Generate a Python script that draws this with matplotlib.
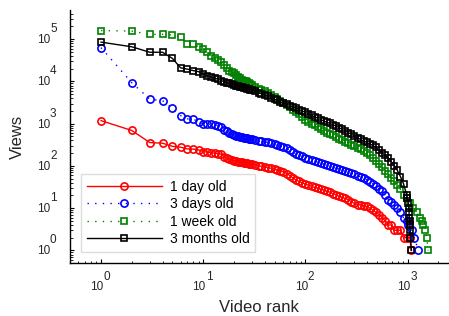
import matplotlib
matplotlib.use("Agg")
import matplotlib.pyplot as plt
from matplotlib.ticker import LogLocator, NullFormatter

plt.rcParams['font.family'] = ['Liberation Sans', 'DejaVu Sans']

rank_grid = [1, 2, 3, 4, 5, 6, 7, 8, 9, 10, 11, 12, 13, 14, 15, 16, 17, 18, 19, 20,
             21, 22, 23, 24, 25, 26, 27, 28, 29, 30, 32, 35, 37, 40, 43, 46, 50, 53,
             57, 61, 66, 71, 76, 81, 87, 93, 100, 107, 115, 123, 132, 141, 151, 162,
             174, 186, 200, 214, 229, 245, 263, 282, 302, 324, 347, 372, 398, 427,
             457, 490, 525, 562, 603, 646, 692, 741, 794, 851, 912, 977]

day1_views = [1180, 690, 357, 345, 290, 277, 253, 250, 240, 219, 212, 205, 200, 196,
              190, 167, 155, 145, 139, 134, 130, 127, 125, 122, 120, 118, 116, 113,
              111, 109, 106, 101, 98, 95, 91, 88, 84, 81, 77, 73, 66, 58, 51, 46, 43,
              40, 37, 35, 33, 31, 30, 28, 27, 25, 24, 22, 21, 19, 18, 17, 16, 14, 13,
              12, 12, 11, 11, 10, 9, 8, 7, 6, 5, 4, 4, 3, 3, 3, 2, 2]
day1_tail_rank = [1056, 1080]
day1_tail_views = [2, 1]

days3_views = [63000, 9300, 3800, 3500, 2300, 1550, 1300, 1300, 1070, 1000, 989, 960,
               937, 900, 855, 713, 660, 595, 560, 530, 515, 500, 487, 475, 466, 458,
               452, 440, 430, 422, 407, 391, 381, 371, 359, 344, 326, 313, 296, 280,
               260, 234, 209, 194, 180, 169, 157, 149, 140, 133, 124, 117, 109, 104,
               99, 95, 90, 85, 81, 76, 71, 67, 63, 59, 55, 51, 47, 42, 38, 34, 29, 25,
               20, 16, 14, 12, 10, 8, 6, 5]
days3_tail_rank = [1017, 1096, 1164, 1274]
days3_tail_views = [4, 3, 2, 1]

week1_views = [160000, 155000, 130000, 130000, 126000, 110000, 77000, 77000, 66000,
               58000, 50700, 40100, 35300, 32000, 29400, 24600, 21000, 18000, 17000,
               15600, 14500, 12500, 11900, 11000, 10500, 10300, 9600, 9060, 8500,
               8150, 7210, 6440, 6190, 5800, 5240, 4730, 4200, 3860, 3460, 3100, 2750,
               2450, 2140, 1900, 1720, 1450, 1220, 1110, 1000, 912, 822, 750, 676,
               614, 562, 525, 482, 444, 407, 376, 344, 317, 292, 268, 247, 226, 204,
               178, 155, 132, 112, 93, 76, 63, 52, 43, 35, 28, 21, 17]
week1_tail_rank = [1056, 1138, 1227, 1322, 1380, 1425, 1480, 1537, 1595]
week1_tail_views = [13, 10, 8, 6, 5, 4, 3, 2, 1]

month3_views = [85000, 66000, 49000, 49000, 35000, 21000, 19500, 18000, 17000, 15000,
                13500, 12600, 11900, 11200, 10500, 9900, 9380, 9000, 8650, 8300, 8000,
                7750, 7550, 7300, 7100, 6900, 6700, 6500, 6350, 6210, 5920, 5380,
                5100, 4730, 4420, 4140, 3800, 3570, 3300, 3090, 2860, 2670, 2500,
                2330, 2150, 2000, 1850, 1710, 1570, 1460, 1350, 1250, 1160, 1080,
                1010, 945, 875, 800, 733, 671, 610, 568, 502, 460, 425, 389, 360, 332,
                305, 275, 234, 204, 178, 155, 126, 102, 78, 56, 38, 21]
month3_tail_rank = [994, 1017, 1025, 1033, 1040, 1047, 1054, 1060, 1066, 1090]
month3_tail_views = [17, 13, 10, 8, 6, 5, 4, 3, 2, 1]

labels = ['1 day old', '3 days old', '1 week old', '3 months old']

fig = plt.figure(figsize=(4.49, 3.16), dpi=100)
ax = fig.add_axes([70 / 449, 53 / 316, 378 / 449, 253 / 316])

circ = dict(marker='o', markersize=5.2, markeredgewidth=1.2, markerfacecolor='none', lw=1)
sq = dict(marker='s', markersize=4.6, markeredgewidth=1.2, markerfacecolor='none', lw=1)
ax.plot(rank_grid + day1_tail_rank, day1_views + day1_tail_views, color='#ff0000',
        ls='-', label=labels[0], **circ)
ax.plot(rank_grid + days3_tail_rank, days3_views + days3_tail_views, color='#0000ff',
        ls=(0, (1, 4.5)), label=labels[1], **circ)
ax.plot(rank_grid + week1_tail_rank, week1_views + week1_tail_views, color='#008000',
        ls=(0, (1, 4.5)), label=labels[2], **sq)
ax.plot(rank_grid + month3_tail_rank, month3_views + month3_tail_views, color='black',
        ls='-', label=labels[3], **sq)

ax.set_xscale('log')
ax.set_yscale('log')
ax.set_xlim(0.497, 2485)
ax.set_ylim(0.504, 4.9e5)

for axis in (ax.xaxis, ax.yaxis):
    axis.set_major_locator(LogLocator(base=10, numticks=20))
    axis.set_minor_locator(LogLocator(base=10, subs=range(2, 10), numticks=20))
    axis.set_major_formatter(NullFormatter())
    axis.set_minor_formatter(NullFormatter())
ax.tick_params(which='major', direction='in', length=3, width=0.8)
ax.tick_params(which='minor', direction='in', length=1.8, width=0.6)
ax.spines['top'].set_visible(False)
ax.spines['right'].set_visible(False)
ax.spines['left'].set_linewidth(1)
ax.spines['bottom'].set_linewidth(1)

# MATLAB-like "10" with full-size exponent tick labels
for k in range(0, 4):
    ax.annotate('10', xy=(10 ** k, 0), xycoords=('data', 'axes fraction'),
                xytext=(2.5, -24), textcoords='offset pixels',
                ha='right', va='center', fontsize=8.5, color='#262626')
    ax.annotate(str(k), xy=(10 ** k, 0), xycoords=('data', 'axes fraction'),
                xytext=(2.5, -14), textcoords='offset pixels',
                ha='left', va='center', fontsize=8.5, color='#262626')
for k in range(0, 6):
    ax.annotate('10', xy=(0, 10 ** k), xycoords=('axes fraction', 'data'),
                xytext=(-20, -1), textcoords='offset pixels',
                ha='right', va='center', fontsize=8.5, color='#262626')
    ax.annotate(str(k), xy=(0, 10 ** k), xycoords=('axes fraction', 'data'),
                xytext=(-20, 10), textcoords='offset pixels',
                ha='left', va='center', fontsize=8.5, color='#262626')

ax.set_xlabel('Video rank', fontsize=12, color='#262626')
ax.set_ylabel('Views', fontsize=12, color='#262626')
ax.xaxis.set_label_coords(0.5, -0.145)
ax.yaxis.set_label_coords(-0.12, 0.5)

leg = ax.legend(loc='lower left', bbox_to_anchor=(0.029, 0.045), borderaxespad=0,
                fontsize=10, handlelength=5.4, handletextpad=0.6, labelspacing=0.25,
                borderpad=0.4, fancybox=False, framealpha=1)
leg.get_frame().set_edgecolor('#dcdcdc')
leg.get_frame().set_linewidth(1)

fig.savefig('out.png', dpi=100)
